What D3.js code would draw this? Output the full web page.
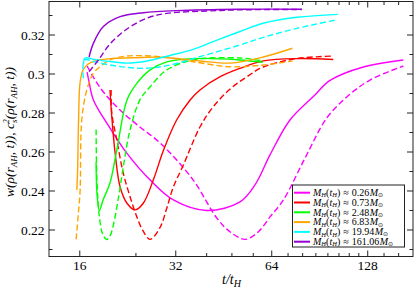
<!DOCTYPE html>
<html>
<head>
<meta charset="utf-8">
<script src="https://cdn.jsdelivr.net/npm/d3@7"></script>
<style>
  body { margin: 0; background: #fff; }
  svg { display: block; }
  text { font-family: "Liberation Serif", "Times New Roman", serif; fill: #000; }
</style>
</head>
<body>
<div id="chart"></div>
<script>
// legend masses M_H(t_H) in solar masses
const masses = ["0.26", "0.73", "2.48", "6.83", "19.94", "161.06"];
const colors = ["#ff00ff", "#ff0000", "#00ff00", "#ffa500", "#00ffff", "#9400d3"];

// [t/t_H, value] — solid = w, dashed = c_s^2
const magentaW = [[16.87,0.301],[17.11,0.2959],[17.65,0.2867],[19.9,0.2723],[22.5,0.2593],[26.6,0.2456],[31.45,0.2354],[40.0,0.23],[50.9,0.2344],[56.7,0.2431],[63.2,0.2585],[73.0,0.2764],[86.4,0.2884],[97.5,0.2967],[124.0,0.3036],[165.5,0.3072]];
const magentaC = [[16.87,0.3041],[17.87,0.2969],[19.2,0.2897],[21.4,0.2815],[24.7,0.2728],[28.6,0.2646],[36.3,0.2456],[43.0,0.2262],[47.4,0.219],[52.8,0.2152],[58.0,0.219],[63.2,0.2267],[69.6,0.2354],[81.4,0.2569],[95.2,0.2774],[110.0,0.2882],[130.1,0.2969],[165.5,0.3041]];
const redW = [[19.9,0.2918],[20.16,0.2781],[20.65,0.2595],[21.4,0.2422],[22.5,0.2337],[23.85,0.2303],[25.3,0.2337],[27.2,0.2456],[29.3,0.261],[32.2,0.2764],[35.5,0.2867],[38.1,0.2918],[44.1,0.2986],[50.9,0.3029],[60.2,0.3067],[76.7,0.3079],[99.8,0.3074]];
const redC = [[20.06,0.2918],[20.16,0.28],[20.9,0.2662],[21.9,0.2492],[23.0,0.2371],[24.15,0.2268],[25.27,0.2195],[26.6,0.2152],[28.6,0.2215],[30.0,0.2313],[31.45,0.2421],[33.8,0.2533],[38.1,0.2728],[41.9,0.2831],[47.4,0.2923],[53.4,0.2985],[60.2,0.3036],[76.7,0.3079],[99.8,0.3092]];
const greenW = [[18.0,0.2549],[18.13,0.2379],[18.43,0.23],[18.93,0.2354],[19.9,0.2441],[20.9,0.261],[22.5,0.2867],[24.15,0.2952],[26.6,0.3021],[30.0,0.3062],[36.3,0.3079],[50.9,0.3072],[60.0,0.306]];
const greenC = [[18.0,0.2716],[18.13,0.2431],[18.52,0.2241],[18.93,0.2174],[19.42,0.2151],[19.9,0.2169],[20.39,0.2226],[21.1,0.2354],[21.95,0.2533],[23.0,0.2713],[24.7,0.2867],[26.6,0.2935],[30.0,0.3021],[36.3,0.3072],[50.9,0.3082],[60.0,0.3067]];
const orangeW = [[15.66,0.2405],[15.75,0.2508],[15.86,0.2764],[16.04,0.2959],[16.39,0.3021],[16.99,0.3051],[17.87,0.3067],[19.9,0.3079],[23.5,0.3083],[28.6,0.3086],[38.1,0.3067],[47.4,0.3056],[60.2,0.3087],[74.3,0.3132]];
const orangeC = [[15.58,0.2152],[15.84,0.2287],[16.04,0.2405],[16.23,0.2764],[16.83,0.2918],[17.65,0.3004],[18.52,0.3037],[19.9,0.3072],[22.5,0.3092],[28.6,0.3089],[36.3,0.3063],[47.4,0.3037],[60.2,0.3046],[74.3,0.3067]];
const cyanW = [[16.44,0.3051],[16.62,0.3082],[17.87,0.3074],[19.9,0.3064],[22.5,0.3056],[26.0,0.3067],[30.7,0.3095],[36.3,0.3126],[43.1,0.3174],[50.9,0.3218],[60.1,0.326],[76.8,0.3291],[103.1,0.3306]];
const cyanC = [[16.42,0.2978],[16.56,0.3072],[17.87,0.3062],[19.9,0.3046],[25.3,0.3029],[30.7,0.3046],[38.1,0.3089],[50.9,0.3149],[60.2,0.3188],[76.7,0.3234],[101.8,0.3277]];
const purpleW = [[17.11,0.3087],[17.65,0.3157],[18.97,0.3243],[21.4,0.3294],[25.3,0.3314],[32.2,0.3325],[50.9,0.3332],[79.5,0.3332]];
const purpleC = [[17.11,0.3012],[18.3,0.3072],[19.9,0.3154],[22.5,0.3231],[25.95,0.3286],[30.0,0.3311],[40.0,0.3323],[50.9,0.3329],[79.5,0.3331]];

const solidSets = [magentaW, redW, greenW, orangeW, cyanW, purpleW];
const dashedSets = [magentaC, redC, greenC, orangeC, cyanC, purpleC];

const xMajor = [16, 32, 64, 128];
const xMinor = [24, 40, 48, 56, 72, 80, 88, 96, 104, 112, 120, 144, 160];
const yMajor = [0.22, 0.24, 0.26, 0.28, 0.30, 0.32];
const yMinor = [0.21, 0.23, 0.25, 0.27, 0.29, 0.31, 0.33];
const yLabels = ["0.22", "0.24", "0.26", "0.28", "0.3", "0.32"];

const width = 415, height = 289;
const box = { left: 49, right: 413, top: 1.5, bottom: 256.5 };

const x = d3.scaleLog().base(2).domain([12.81, 177.5]).range([box.left, box.right]);
const y = d3.scaleLinear().domain([0.20641, 0.33718]).range([box.bottom, box.top]);

const svg = d3.select("#chart").append("svg")
  .attr("width", width)
  .attr("height", height);

svg.append("defs").append("clipPath").attr("id", "clip")
  .append("rect")
  .attr("x", box.left).attr("y", box.top)
  .attr("width", box.right - box.left).attr("height", box.bottom - box.top);

const line = d3.line()
  .x((d) => x(d[0]))
  .y((d) => y(d[1]))
  .curve(d3.curveCatmullRom.alpha(0.5));

const plot = svg.append("g").attr("clip-path", "url(#clip)");

colors.forEach((c, i) => {
  plot.append("path")
    .attr("d", line(solidSets[i]))
    .attr("fill", "none")
    .attr("stroke", c)
    .attr("stroke-width", 1.4);
  plot.append("path")
    .attr("d", line(dashedSets[i]))
    .attr("fill", "none")
    .attr("stroke", c)
    .attr("stroke-width", 1.4)
    .attr("stroke-dasharray", "6,3");
});

// frame + inward ticks on every side
const axes = svg.append("g").attr("stroke", "#222").attr("stroke-width", 1);
axes.append("rect")
  .attr("x", box.left).attr("y", box.top)
  .attr("width", box.right - box.left).attr("height", box.bottom - box.top)
  .attr("fill", "none");

function xTicks(vals, len) {
  vals.forEach((v) => {
    const px = x(v);
    axes.append("line").attr("x1", px).attr("x2", px).attr("y1", box.bottom).attr("y2", box.bottom - len);
    axes.append("line").attr("x1", px).attr("x2", px).attr("y1", box.top).attr("y2", box.top + len);
  });
}
function yTicks(vals, len) {
  vals.forEach((v) => {
    const py = y(v);
    axes.append("line").attr("y1", py).attr("y2", py).attr("x1", box.left).attr("x2", box.left + len);
    axes.append("line").attr("y1", py).attr("y2", py).attr("x1", box.right).attr("x2", box.right - len);
  });
}
xTicks(xMajor, 6);
xTicks(xMinor, 3.5);
yTicks(yMajor, 6);
yTicks(yMinor, 3.5);

svg.append("g").selectAll("text")
  .data(xMajor)
  .join("text")
  .attr("x", (d) => x(d))
  .attr("y", 270)
  .attr("text-anchor", "middle")
  .attr("font-size", 13.5)
  .text((d) => d);

svg.append("g").selectAll("text")
  .data(yMajor)
  .join("text")
  .attr("x", 44.5)
  .attr("y", (d) => y(d) + 4.6)
  .attr("text-anchor", "end")
  .attr("font-size", 13.5)
  .text((d, i) => yLabels[i]);

// x label t/t_H
const xl = svg.append("text")
  .attr("x", 222).attr("y", 284)
  .attr("font-size", 14).attr("font-style", "italic");
xl.append("tspan").text("t/t");
xl.append("tspan").attr("font-size", 10).attr("dy", 3).text("H");

// y label
const yl = svg.append("text")
  .attr("transform", "translate(13.5,132) rotate(-90)")
  .attr("text-anchor", "middle")
  .attr("font-size", 13.5).attr("font-style", "italic");
yl.append("tspan").text("w(ρ(r");
yl.append("tspan").attr("font-size", 9).attr("dy", 3).text("AH");
yl.append("tspan").attr("dy", -3).text(", t)), c");
yl.append("tspan").attr("font-size", 9).attr("dy", 3).text("s");
yl.append("tspan").attr("font-size", 8.5).attr("dx", -4).attr("dy", -7.5).text("2");
yl.append("tspan").attr("dy", 4.5).text("(ρ(r");
yl.append("tspan").attr("font-size", 9).attr("dy", 3).text("AH");
yl.append("tspan").attr("dy", -3).text(", t))");

// legend
const lg = svg.append("g");
lg.append("rect")
  .attr("x", 292.5).attr("y", 185)
  .attr("width", 112).attr("height", 62)
  .attr("fill", "#fff").attr("stroke", "#222").attr("stroke-width", 1);

masses.forEach((m, i) => {
  const cy = 192.7 + i * 9.8;
  lg.append("line")
    .attr("x1", 294).attr("x2", 310)
    .attr("y1", cy).attr("y2", cy)
    .attr("stroke", colors[i]).attr("stroke-width", 2);
  const t = lg.append("text")
    .attr("x", 313).attr("y", cy + 3.2)
    .attr("font-size", 10);
  t.append("tspan").attr("font-style", "italic").text("M");
  t.append("tspan").attr("font-style", "italic").attr("font-size", 6.5).attr("dy", 1.5).text("H");
  t.append("tspan").attr("dy", -1.5).text("(");
  t.append("tspan").attr("font-style", "italic").text("t");
  t.append("tspan").attr("font-style", "italic").attr("font-size", 6.5).attr("dy", 1.5).text("H");
  t.append("tspan").attr("dy", -1.5).text(")");
  t.append("tspan").attr("dx", 3).text("≈");
  t.append("tspan").attr("dx", 3).text(m);
  t.append("tspan").attr("dx", 0.5).attr("font-style", "italic").text("M");
  t.append("tspan").attr("font-size", 6).attr("dy", 1.2).text("⊙");
});
</script>
</body>
</html>
